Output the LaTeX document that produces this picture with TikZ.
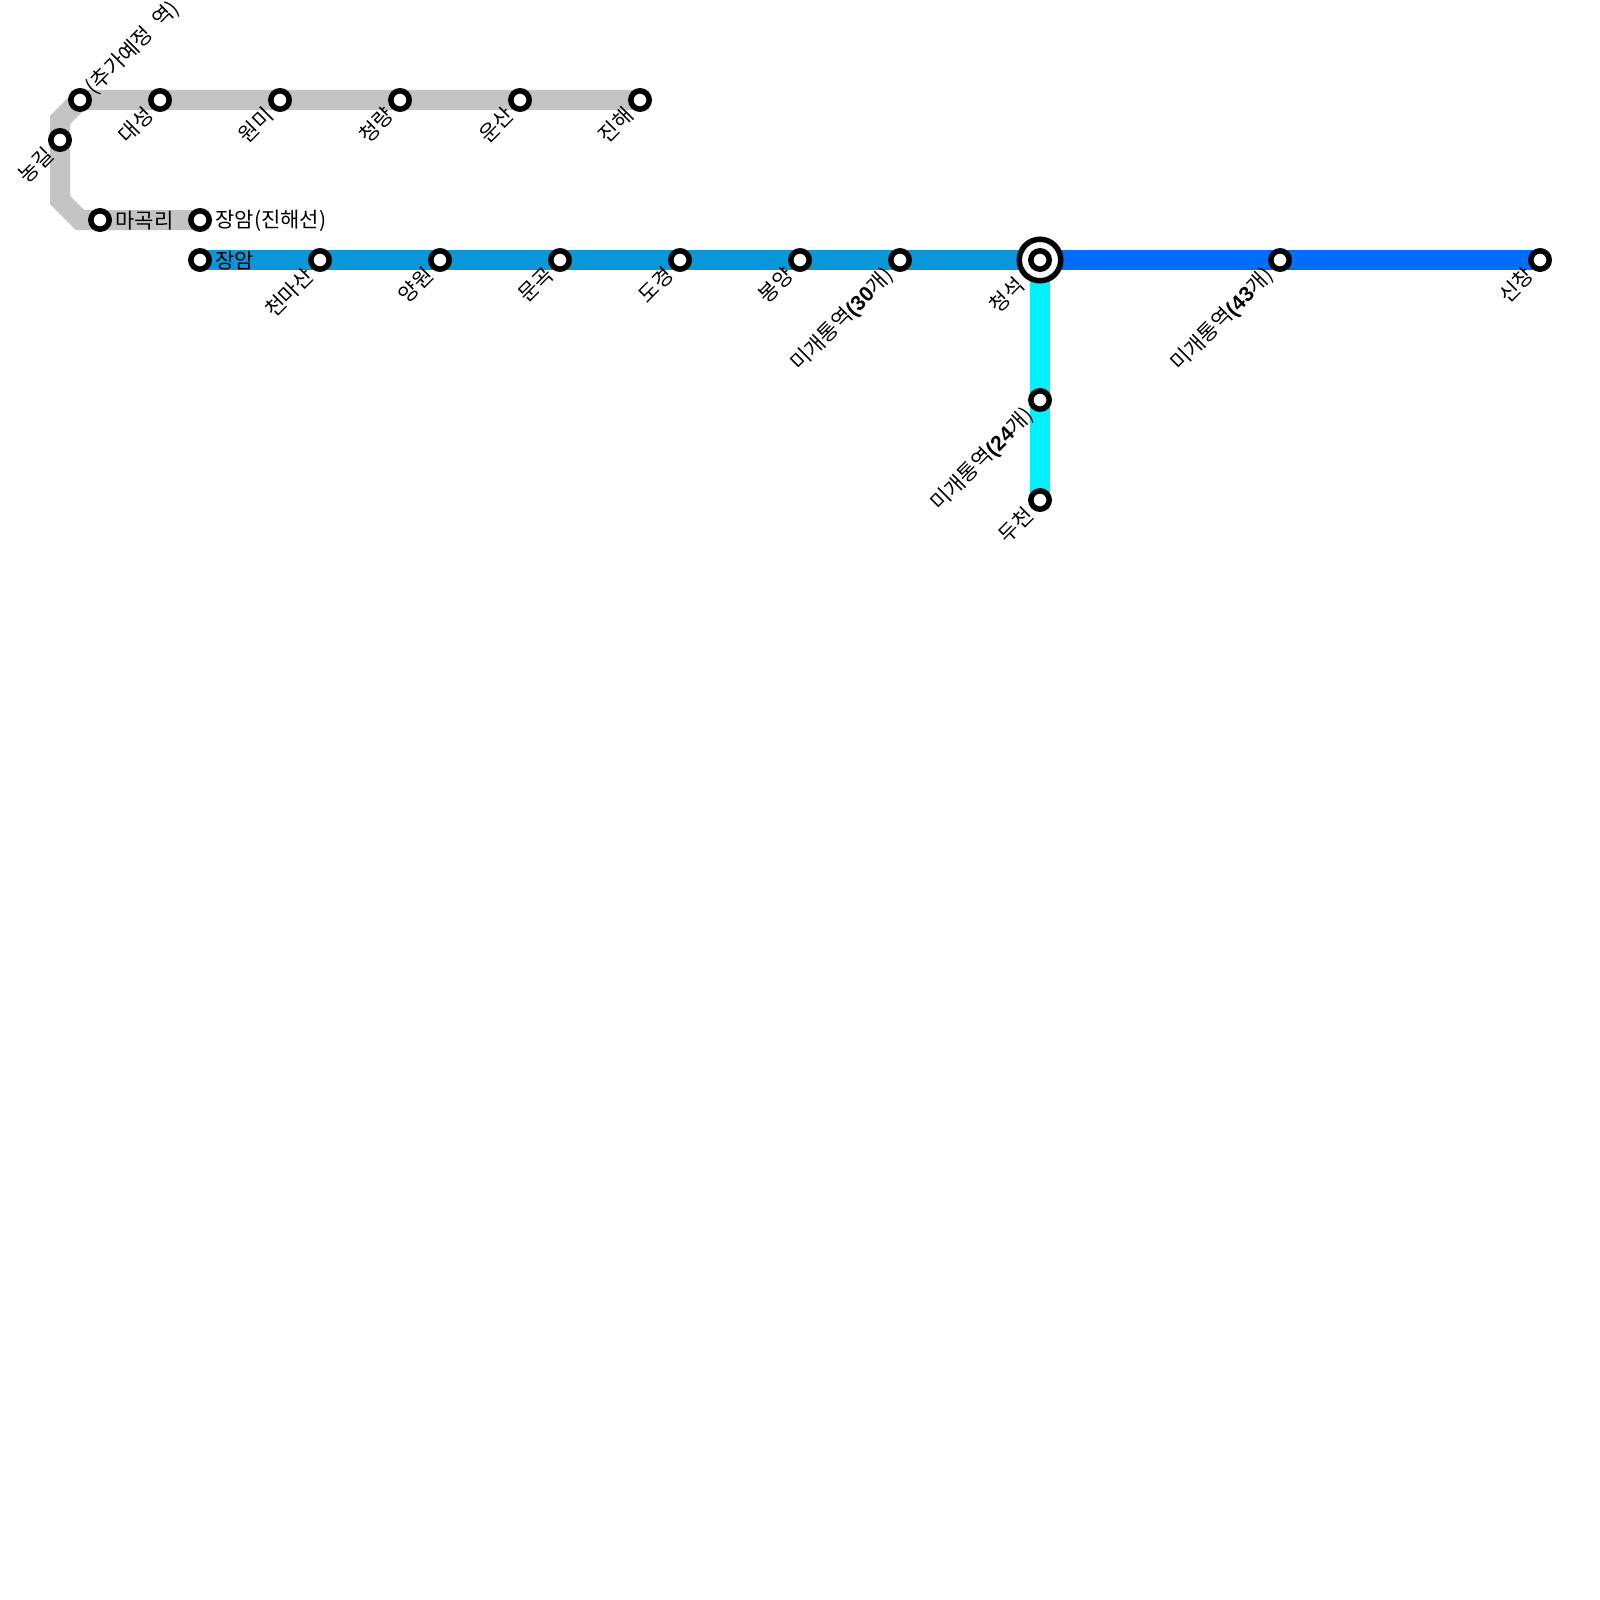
\documentclass[tikz,border=0pt]{standalone}
\usepackage{fontspec}
\setmainfont{Liberation Sans}
\newfontfamily\kr{Noto Sans CJK KR}
\usetikzlibrary{backgrounds}
\tikzset{
  x=0.5pt,y=-0.5pt,
  line/.style={line width=10pt,line join=miter},
  stn/.style={circle,draw=black,fill=white,line width=2.75pt,minimum size=9.2pt,inner sep=0pt,outer sep=0pt},
  big/.style={circle,draw=black,fill=white,line width=2.75pt,minimum size=20.75pt,inner sep=0pt,outer sep=0pt},
  txt/.style={inner sep=0pt,font=\kr\fontsize{10.5}{12}\selectfont},
  lbll/.style={txt,rotate=45,anchor=east},
  lbl/.style={txt,anchor=west},
  lblu/.style={txt,rotate=45,anchor=west},
}
\definecolor{greyl}{HTML}{C4C4C4}
\definecolor{bluel}{HTML}{0A97D7}
\definecolor{bluer}{HTML}{006DFF}
\definecolor{cyanl}{HTML}{00F0FF}
\begin{document}
\begin{tikzpicture}
\useasboundingbox (0,0) rectangle (1600,1600);
\coordinate (bendB) at (60,120);
\coordinate (bendC) at (60,200);
\coordinate (bendD) at (80,220);
\node[stn] (chuga) at (80,100) {};
\node[stn] (daeseong) at (160,100) {};
\node[stn] (wonmi) at (280,100) {};
\node[stn] (cheongnyang) at (400,100) {};
\node[stn] (unsan) at (520,100) {};
\node[stn] (jinhae) at (640,100) {};
\node[stn] (nonggil) at (60,140) {};
\node[stn] (magok) at (100,220) {};
\node[stn] (jangamj) at (200,220) {};
\node[stn] (jangam) at (200,260) {};
\node[stn] (cheonma) at (320,260) {};
\node[stn] (yangwon) at (440,260) {};
\node[stn] (mungok) at (560,260) {};
\node[stn] (dogyeong) at (680,260) {};
\node[stn] (bongyang) at (800,260) {};
\node[stn] (mi30) at (900,260) {};
\node[big] (cheongseok) at (1040,260) {};
\node[stn] (cheongin) at (1040,260) {};
\node[stn] (mi43) at (1280,260) {};
\node[stn] (sinchang) at (1540,260) {};
\node[stn] (mi24) at (1040,400) {};
\node[stn] (ducheon) at (1040,500) {};
\begin{scope}[on background layer]
\fill[white] (0,0) rectangle (1600,1600);
\draw[line,greyl] (jinhae.center) -- (chuga.center) -- (bendB) -- (bendC) -- (bendD) -- (jangamj.center);
\draw[line,bluel] (jangam.center) -- (cheongseok.center);
\draw[line,bluer] (cheongseok.center) -- (sinchang.center);
\draw[line,cyanl] (cheongseok.center) -- (ducheon.center);
\end{scope}
\node[lblu] (t1) at (90,91) {(추가예정\hspace{2.5pt} 역)};
\node[lbll] (t2) at (150,111) {대성};
\node[lbll] (t3) at (270,111) {원미};
\node[lbll] (t4) at (390,111) {청량};
\node[lbll] (t5) at (510,111) {운산};
\node[lbll] (t6) at (630,111) {진해};
\node[lbll] (t7) at (50,151) {농길};
\node[lbl] (t8) at (115,221) {마곡리};
\node[lbl] (t9) at (215,221) {장암(진해선)};
\node[lbl] (t10) at (215,261) {장암};
\node[lbll] (t11) at (310,272) {천마산};
\node[lbll] (t12) at (430,271) {양원};
\node[lbll] (t13) at (550,271) {문곡};
\node[lbll] (t14) at (670,271) {도경};
\node[lbll] (t15) at (790,271) {봉양};
\node[lbll] (t16) at (890,272) {미개통역{\rmfamily\bfseries(30}개)};
\node[lbll] (t17) at (1021,281) {청석};
\node[lbll] (t18) at (1270,272) {미개통역{\rmfamily\bfseries(43}개)};
\node[lbll] (t19) at (1530,271) {신창};
\node[lbll] (t20) at (1030,412) {미개통역{\rmfamily\bfseries(24}개)};
\node[lbll] (t21) at (1030,511) {두천};
\end{tikzpicture}
\end{document}
